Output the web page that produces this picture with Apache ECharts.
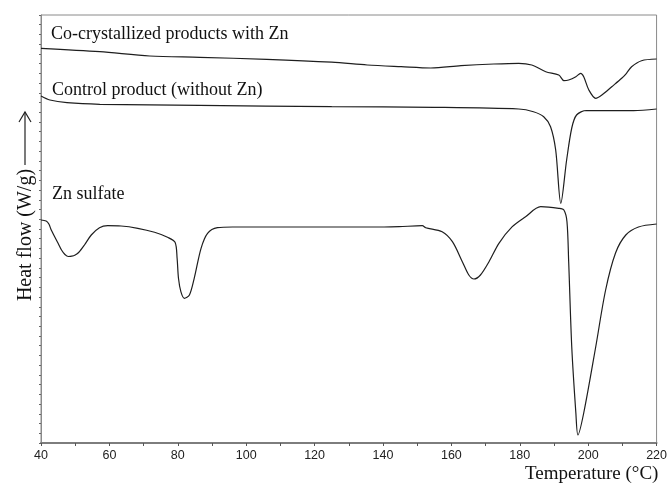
<!DOCTYPE html>
<html><head><meta charset="utf-8">
<script src="https://cdn.jsdelivr.net/npm/echarts@6/dist/echarts.min.js"></script>
<style>html,body{margin:0;padding:0;background:#fff}#c{width:670px;height:486px}</style>
</head><body><div id="c"></div>
<script>
// Temperature (°C) and heat flow (arbitrary units, height above baseline)
const coTemp = [40, 57.2, 71.8, 86.4, 106, 125, 135.4, 145.3, 154, 162.8, 172.4, 179.7, 183.5, 187.6, 191.4, 192.9, 194.3, 196.4, 197.8, 198.7, 200.2, 202.2, 204, 206.9, 209.8, 211.2, 212.7, 215.6, 220];
const coFlow = [394.7, 391.3, 387, 385.7, 383.7, 380.8, 378, 376.3, 375, 377.3, 379, 379.7, 378, 371.3, 368, 362.3, 363, 366.3, 369.7, 366.3, 353, 344.7, 348, 356.3, 364.7, 369.7, 376.3, 382.3, 384];

const ctTemp = [40, 42.6, 47.6, 57.2, 86.4, 125, 155, 179.7, 184, 187, 189, 190.5, 192, 193.7, 195.2, 196.6, 199.5, 209, 213.3, 220];
const ctFlow = [347, 343, 340.3, 338.7, 337.7, 336.3, 335.7, 334, 331.3, 326.3, 316.3, 293, 239.7, 283, 315, 328, 332.5, 332.3, 332.3, 334];

const znTemp = [40, 41.5, 42.3, 43, 45, 46, 47, 48, 49, 50, 51, 52.7, 54.7, 57.1, 59.5, 63.4, 68.3, 73.2, 77, 79.2, 79.8, 80.2, 80.9, 81.9, 83.4, 84.8, 86.8, 88.7, 91.6, 96, 110, 125, 140.3, 144.7, 151.5, 152.5, 157.3, 160.3, 163.2, 165.1, 166.6, 168.5, 171, 173.9, 177.8, 181.7, 186.1, 191.4, 192.9, 193.8, 194.3, 195.2, 196.4, 197, 198.7, 202.2, 205.1, 208, 211, 214.7, 220];
const znFlow = [223, 222, 219, 213, 199.7, 193, 188.5, 186.5, 186.8, 188, 190.5, 198, 208, 215.3, 217.3, 217, 214.7, 210.7, 205.7, 200.7, 184.7, 164.7, 151.3, 144.7, 148, 164.7, 194.7, 209.7, 215.3, 216, 216, 216, 216, 216.3, 217.3, 215.3, 211.3, 201.3, 181.3, 168, 164, 168, 181.3, 199.7, 216.3, 226.3, 236.3, 234.7, 233, 221.3, 181.3, 96, 30, 8, 30, 96, 153, 190, 208, 216, 219];

const xTickLabels = [40, 60, 80, 100, 120, 140, 160, 180, 200, 220];
const curveNames = ['Co-crystallized products with Zn', 'Control product (without Zn)', 'Zn sulfate'];

const pairs = (t, v) => t.map((x, i) => [x, v[i]]);
const serif = '"Liberation Serif", "Times New Roman", serif';
const lineColor = '#1e1e1e';

const chart = echarts.init(document.getElementById('c'), null, {renderer: 'canvas'});
chart.setOption({
  animation: false,
  backgroundColor: '#fff',
  grid: {left: 41, right: 12, top: 15, bottom: 43, show: true, borderColor: '#8a8a8a', borderWidth: 1},
  xAxis: {
    type: 'value', min: 40, max: 220, interval: 20, splitNumber: 9,
    axisLine: {lineStyle: {color: '#7d7d7d', width: 2}},
    axisTick: {show: true, length: 3, lineStyle: {color: '#555'}},
    minorTick: {show: true, splitNumber: 2, length: 3, lineStyle: {color: '#555'}},
    axisLabel: {color: '#222', fontSize: 12.5, fontFamily: '"Liberation Sans", Arial, sans-serif', margin: 6,
      formatter: v => xTickLabels.includes(v) ? String(v) : ''},
    splitLine: {show: false}
  },
  yAxis: {
    type: 'value', min: 0, max: 428, interval: 428 / 44,
    axisLine: {show: true, lineStyle: {color: '#8a8a8a', width: 1}},
    axisTick: {show: true, length: 2, lineStyle: {color: '#666'}},
    axisLabel: {show: false},
    splitLine: {show: false}
  },
  series: [
    {name: curveNames[0], type: 'line', data: pairs(coTemp, coFlow), showSymbol: false, smooth: 0.3,
      lineStyle: {color: lineColor, width: 1.2}},
    {name: curveNames[1], type: 'line', data: pairs(ctTemp, ctFlow), showSymbol: false, smooth: 0.3,
      lineStyle: {color: lineColor, width: 1.2}},
    {name: curveNames[2], type: 'line', data: pairs(znTemp, znFlow), showSymbol: false, smooth: 0.3,
      lineStyle: {color: lineColor, width: 1.2}}
  ],
  graphic: [
    {type: 'text', x: 51, y: 34, style: {text: curveNames[0], font: '18px ' + serif, fill: '#111', verticalAlign: 'middle', align: 'left'}},
    {type: 'text', x: 52, y: 90, style: {text: curveNames[1], font: '18px ' + serif, fill: '#111', verticalAlign: 'middle', align: 'left'}},
    {type: 'text', x: 52, y: 194, style: {text: curveNames[2], font: '18px ' + serif, fill: '#111', verticalAlign: 'middle', align: 'left'}},
    {type: 'text', x: 525, y: 474, style: {text: 'Temperature (°C)', font: '19px ' + serif, fill: '#111', verticalAlign: 'middle', align: 'left'}},
    {type: 'text', x: 26, y: 235, rotation: Math.PI / 2, style: {text: 'Heat flow (W/g)', font: '20px ' + serif, fill: '#111', verticalAlign: 'middle', align: 'center'}},
    {type: 'polyline', shape: {points: [[25, 165], [25, 112]]}, style: {stroke: '#222', lineWidth: 1.2, fill: null}},
    {type: 'polyline', shape: {points: [[19, 122], [25, 112], [31, 122]]}, style: {stroke: '#222', lineWidth: 1.2, fill: null}}
  ]
});
</script>
</body></html>
